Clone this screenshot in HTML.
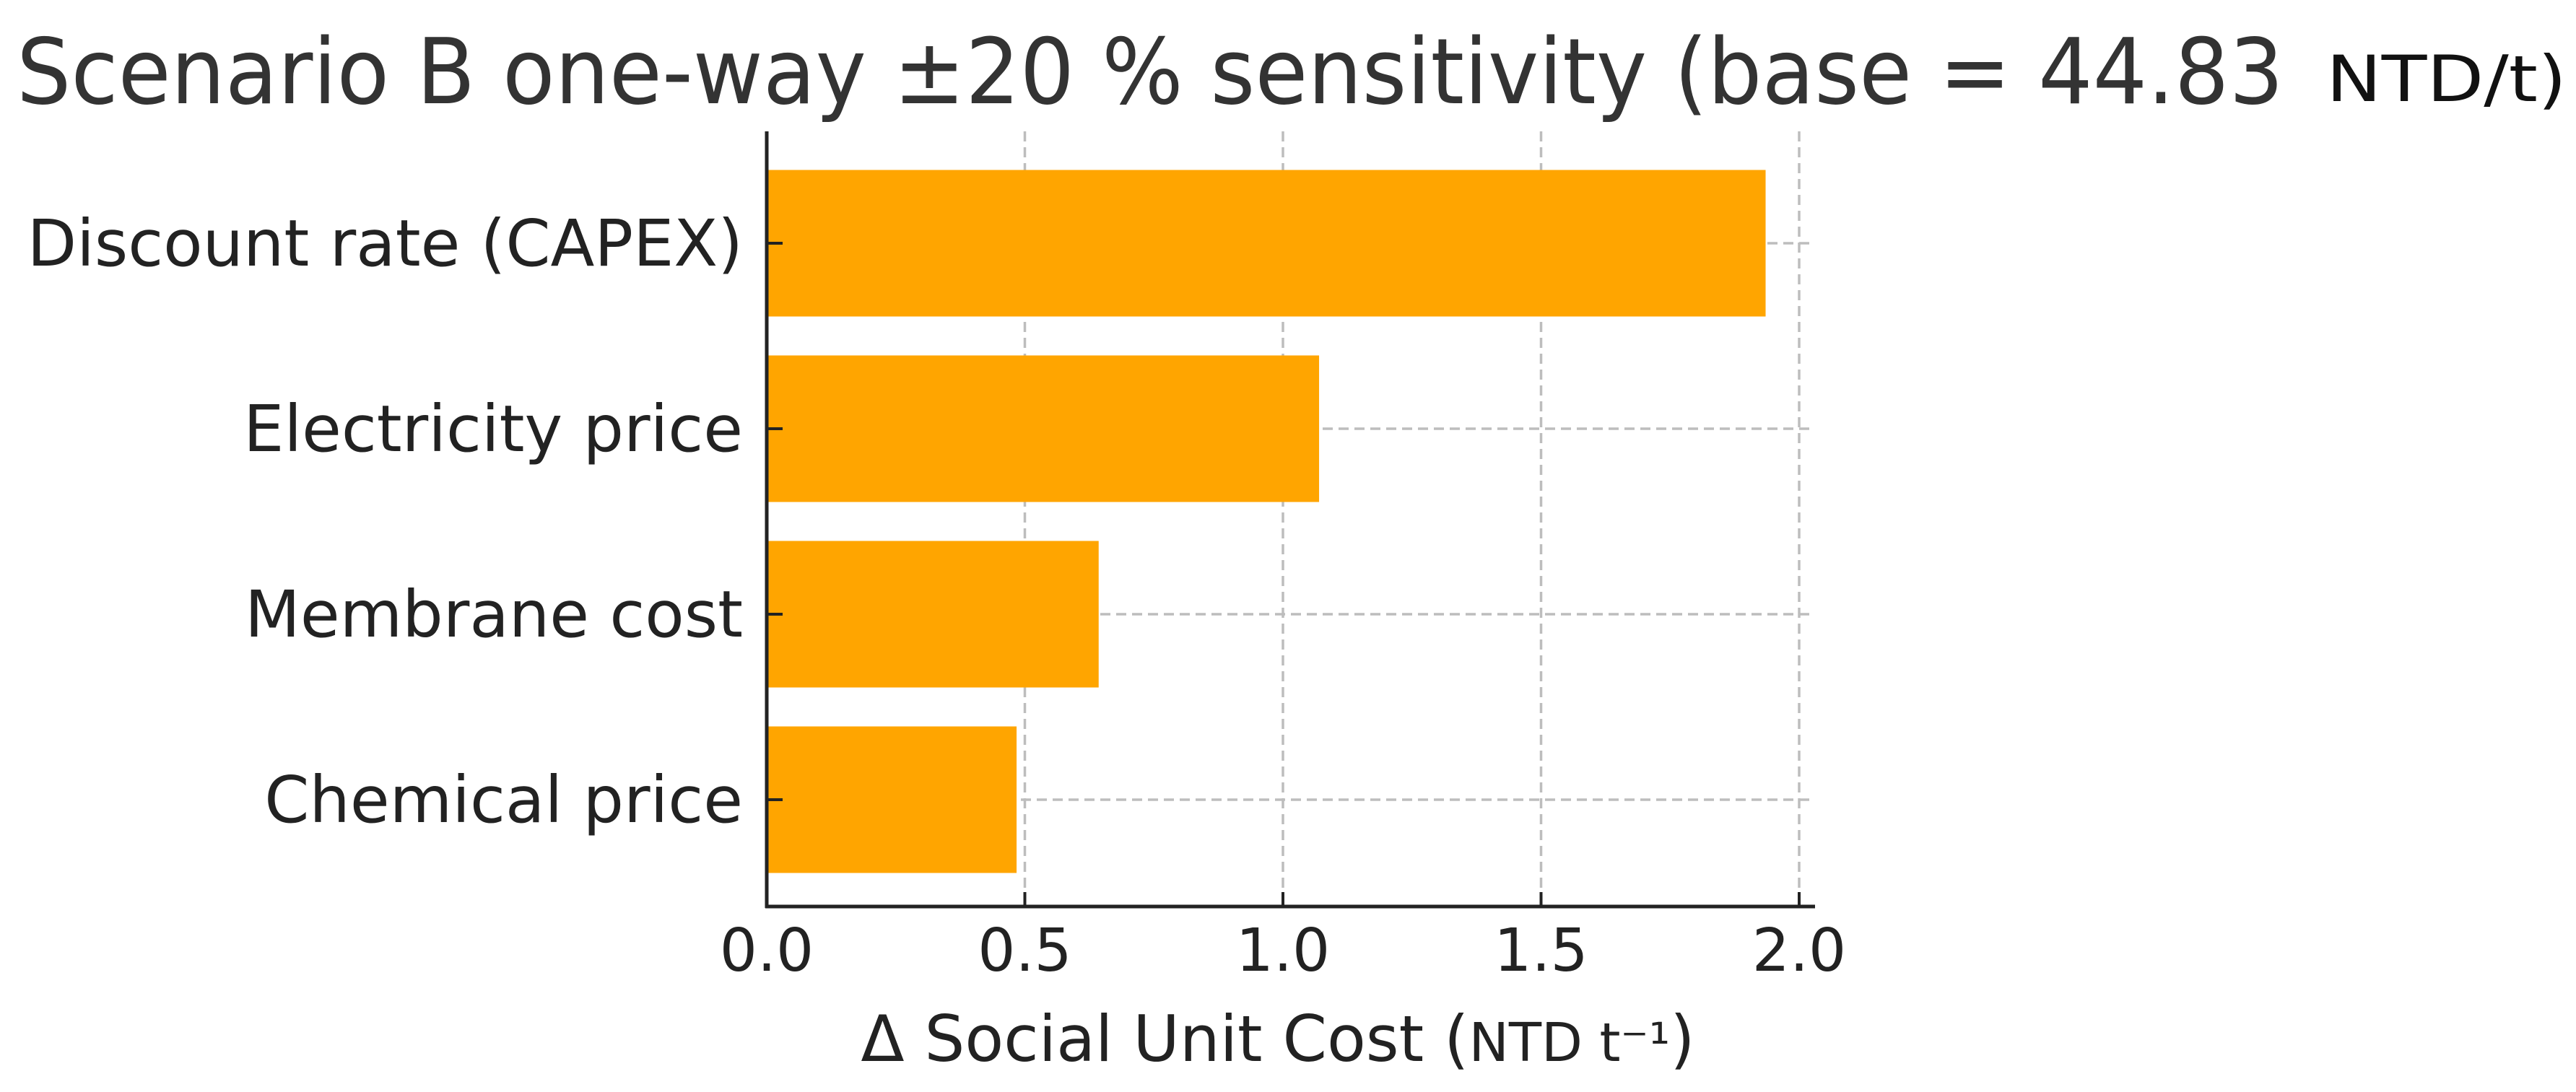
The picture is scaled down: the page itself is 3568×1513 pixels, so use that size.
<!DOCTYPE html>
<html><head><meta charset="utf-8"><style>body{margin:0;background:#fff}svg{display:block}</style></head>
<body>
<svg id="c" width="3568" height="1513" viewBox="0 0 3568 1513" xmlns="http://www.w3.org/2000/svg" font-family="DejaVu Sans, Liberation Sans, sans-serif" fill="#222">
<text x="23" y="143" font-size="126" textLength="3140" lengthAdjust="spacingAndGlyphs" fill="#333">Scenario B one-way ±20 % sensitivity (base = 44.83</text>
<text x="3222" y="140" font-size="88" textLength="333" lengthAdjust="spacingAndGlyphs" fill="#111">NTD/t)</text>
<g id="grid"></g><g id="bars"></g><g id="axes"></g>
<text x="1770" y="1470" font-size="88" text-anchor="middle" fill="#222">Δ Social Unit Cost (<tspan font-size="74">NTD t⁻¹</tspan>)</text>
</svg>
<script>
const categories = ["Discount rate (CAPEX)", "Electricity price", "Membrane cost", "Chemical price"];
const values = [1.935, 1.07, 0.643, 0.484];
const xTicks = [0.0, 0.5, 1.0, 1.5, 2.0];
const xTickLabels = ["0.0", "0.5", "1.0", "1.5", "2.0"];

const NS = "http://www.w3.org/2000/svg";
const X0 = 1062, X1 = 2492, Y0 = 182, Y1 = 1256, XEND = 2514;
const xs = v => X0 + (v - 0) / 2.0 * (X1 - X0);
const rowTop = 337, rowStep = 257;
const ys = i => rowTop + i * rowStep;
function mk(tag, attrs, parent) { const e = document.createElementNS(NS, tag); for (const k in attrs) e.setAttribute(k, attrs[k]); parent.appendChild(e); return e; }
const grid = document.getElementById('grid'), bars = document.getElementById('bars'), axes = document.getElementById('axes');
xTicks.forEach((t, i) => {
  const x = xs(t);
  const g = mk('line', {x1: x, x2: x, y1: Y0, y2: Y1, stroke: '#bdbdbd', 'stroke-width': 3.5, 'stroke-dasharray': '14 8'}, grid);
  
  
  const tk = mk('line', {x1: x, x2: x, y1: Y1, y2: Y1 - 20, stroke: '#222', 'stroke-width': 4}, axes);
  
  
  const lb = mk('text', {x: x, y: 1345, 'font-size': 82, 'text-anchor': 'middle'}, axes);
  lb.textContent = xTickLabels[i];
  
  
});
categories.forEach((c, i) => {
  const y = ys(i);
  const g = mk('line', {x1: X0, x2: XEND, y1: y, y2: y, stroke: '#bdbdbd', 'stroke-width': 3.5, 'stroke-dasharray': '14 8'}, grid);
  
  
  const h = rowStep * 0.79;
  const b = mk('rect', {x: X0, y: y - h / 2, width: xs(values[i]) - X0, height: h, fill: '#FFA500'}, bars);
  
  
  const tk = mk('line', {x1: X0, x2: X0 + 22, y1: y, y2: y, stroke: '#222', 'stroke-width': 4}, axes);
  
  
  const lb = mk('text', {x: 1029, y: y + 31, 'font-size': 89, 'text-anchor': 'end'}, axes);
  lb.textContent = c;
  
  
});
const ya = mk('line', {x1: X0, x2: X0, y1: Y0, y2: Y1 + 2, stroke: '#222', 'stroke-width': 5}, axes);


const xa = mk('line', {x1: X0 - 2, x2: XEND, y1: Y1, y2: Y1, stroke: '#222', 'stroke-width': 5}, axes);


</script>
</body></html>
